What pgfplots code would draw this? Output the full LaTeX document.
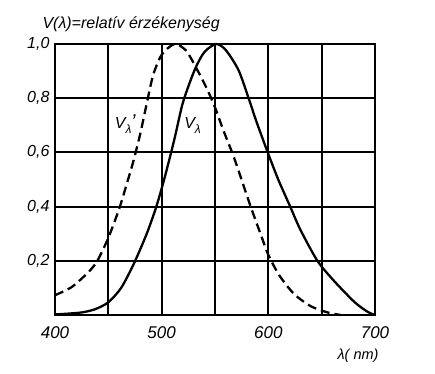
\documentclass[border=0pt]{standalone}
\usepackage{pgfplots}
\pgfplotsset{compat=1.18}
\usepackage{fontspec}
\setmainfont{Liberation Sans}
\setsansfont{Liberation Sans}
\pgfplotstableread{
nm V
400 0.002
412 0.005
426 0.010
438 0.022
450 0.047
462 0.100
474 0.190
486 0.300
495 0.400
503 0.510
512 0.650
520 0.785
531 0.905
540 0.970
551 1.000
560 0.978
572 0.904
581.5 0.800
589 0.712
600 0.594
609.5 0.498
620.5 0.400
630 0.315
646 0.200
662 0.124
681 0.047
693 0.012
700 0.0
}\photopic
\pgfplotstableread{
nm V
400 0.073
416 0.104
432 0.161
440 0.202
450 0.285
460 0.390
467 0.480
474 0.575
480 0.670
486 0.780
492 0.885
500 0.960
512 1.000
523 0.975
534 0.900
543 0.830
550 0.766
558 0.680
566 0.600
571 0.545
583 0.405
594 0.285
600 0.222
610 0.148
624 0.078
640 0.032
656 0.009
668 0.0
}\scotopic
\begin{document}
\begin{tikzpicture}
\path[use as bounding box] (-55pt,-58pt) rectangle (380pt,315pt);
\begin{axis}[
  at={(0pt,0pt)}, anchor=south west,
  scale only axis, width=320pt, height=271pt,
  xmin=400, xmax=700, ymin=0, ymax=1,
  xtick={400,450,...,700}, xticklabels={400,,500,,600,,700},
  ytick={0.2,0.4,0.6,0.8,1.0}, yticklabels={{0,2},{0,4},{0,6},{0,8},{1,0}},
  grid=major, major grid style={black, line width=1.9pt},
  axis line style={line width=2.2pt},
  major tick length=0pt,
  xticklabel style={font=\fontsize{17}{17}\selectfont\itshape, yshift=-8pt},
  yticklabel style={font=\fontsize{16}{16}\selectfont\itshape, xshift=-2pt},
  clip=false,
]
\addplot[black, line width=2.3pt, smooth, tension=0.45] table[x=nm,y=V] {\photopic};
\addplot[black, line width=2.3pt, smooth, tension=0.45, dash pattern=on 9pt off 5pt] table[x=nm,y=V] {\scotopic};
\node[font=\fontsize{16}{16}\selectfont\itshape, inner sep=1pt] at (axis cs:464,0.70) {V\raisebox{-5pt}{\fontsize{12}{12}\selectfont λ}};
\node[font=\fontsize{20}{20}\selectfont\itshape, inner sep=0pt] at (axis cs:473.5,0.715) {'};
\node[font=\fontsize{16}{16}\selectfont\itshape, inner sep=1pt] at (axis cs:529,0.70) {V\raisebox{-5pt}{\fontsize{12}{12}\selectfont λ}};
\end{axis}
\node[anchor=base west, font=\fontsize{16}{16}\selectfont\itshape] at (-16pt,287pt) {V(λ)=relatív érzékenység};
\node[font=\fontsize{14.5}{15}\selectfont\itshape] at (303pt,-41pt) {λ( nm)};
\end{tikzpicture}
\end{document}
